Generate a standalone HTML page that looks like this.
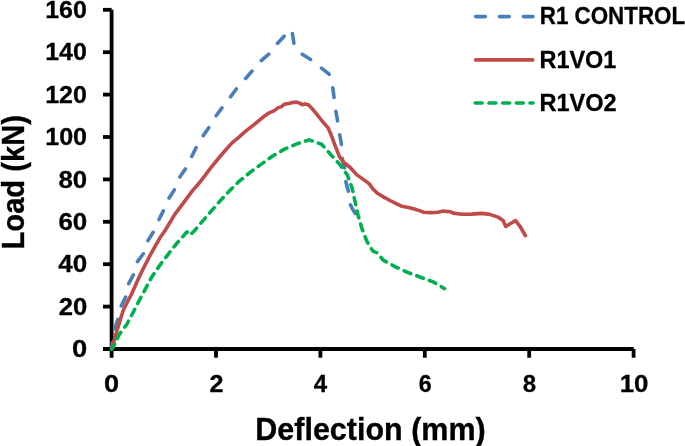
<!DOCTYPE html>
<html><head><meta charset="utf-8"><style>
html,body{margin:0;padding:0;background:#fff;}
svg{display:block;will-change:transform;}
.t{font-family:"Liberation Sans",sans-serif;font-weight:bold;fill:#000;stroke:#000;stroke-width:0.3px;}
.tt{font-family:"Liberation Sans",sans-serif;font-weight:bold;fill:#000;stroke:#000;stroke-width:0.35px;}
</style></head><body>
<svg width="685" height="446" viewBox="0 0 685 446">
<line x1="111.6" y1="9.799999999999955" x2="111.6" y2="357.7" stroke="#000" stroke-width="3.8"/>
<line x1="103.0" y1="349.0" x2="633.7" y2="349.0" stroke="#000" stroke-width="3.8"/>
<line x1="103.0" y1="306.6" x2="111.6" y2="306.6" stroke="#000" stroke-width="3.8"/>
<line x1="103.0" y1="264.2" x2="111.6" y2="264.2" stroke="#000" stroke-width="3.8"/>
<line x1="103.0" y1="221.8" x2="111.6" y2="221.8" stroke="#000" stroke-width="3.8"/>
<line x1="103.0" y1="179.4" x2="111.6" y2="179.4" stroke="#000" stroke-width="3.8"/>
<line x1="103.0" y1="137.0" x2="111.6" y2="137.0" stroke="#000" stroke-width="3.8"/>
<line x1="103.0" y1="94.6" x2="111.6" y2="94.6" stroke="#000" stroke-width="3.8"/>
<line x1="103.0" y1="52.2" x2="111.6" y2="52.2" stroke="#000" stroke-width="3.8"/>
<line x1="103.0" y1="9.8" x2="111.6" y2="9.8" stroke="#000" stroke-width="3.8"/>
<line x1="216.0" y1="349.0" x2="216.0" y2="357.7" stroke="#000" stroke-width="3.8"/>
<line x1="320.4" y1="349.0" x2="320.4" y2="357.7" stroke="#000" stroke-width="3.8"/>
<line x1="424.8" y1="349.0" x2="424.8" y2="357.7" stroke="#000" stroke-width="3.8"/>
<line x1="529.2" y1="349.0" x2="529.2" y2="357.7" stroke="#000" stroke-width="3.8"/>
<line x1="633.6" y1="349.0" x2="633.6" y2="357.7" stroke="#000" stroke-width="3.8"/>
<text transform="translate(72.07,357.10) scale(1.1203,1)" style="font-size:24.4px" class="t">0</text>
<text transform="translate(58.66,314.70) scale(1.0517,1)" style="font-size:24.4px" class="t">20</text>
<text transform="translate(58.36,272.30) scale(1.0632,1)" style="font-size:24.4px" class="t">40</text>
<text transform="translate(58.40,229.90) scale(1.0616,1)" style="font-size:24.4px" class="t">60</text>
<text transform="translate(58.53,187.50) scale(1.0566,1)" style="font-size:24.4px" class="t">80</text>
<text transform="translate(45.17,145.10) scale(1.0295,1)" style="font-size:24.4px" class="t">100</text>
<text transform="translate(45.18,102.70) scale(1.0243,1)" style="font-size:24.4px" class="t">120</text>
<text transform="translate(45.18,60.30) scale(1.0217,1)" style="font-size:24.4px" class="t">140</text>
<text transform="translate(45.18,17.90) scale(1.0243,1)" style="font-size:24.4px" class="t">160</text>
<text transform="translate(103.98,392.10) scale(1.1117,1)" style="font-size:24.4px" class="t">0</text>
<text transform="translate(209.48,392.10) scale(1.0300,1)" style="font-size:24.4px" class="t">2</text>
<text transform="translate(313.69,392.10) scale(0.9870,1)" style="font-size:24.4px" class="t">4</text>
<text transform="translate(418.70,392.10) scale(0.9496,1)" style="font-size:24.4px" class="t">6</text>
<text transform="translate(522.68,392.10) scale(0.9880,1)" style="font-size:24.4px" class="t">8</text>
<text transform="translate(619.72,392.10) scale(1.0609,1)" style="font-size:24.4px" class="t">10</text>
<polyline points="111.6,349.0 113.0,338.0 114.5,329.6 117.8,319.5 121.2,306.0 125.7,297.0 128.0,284.8 133.5,274.7 137.0,262.3 143.6,253.4 147.8,240.8 153.5,231.8 159.0,219.5 163.5,210.5 169.0,198.2 174.8,189.2 179.2,178.0 186.0,168.0 191.6,156.7 196.7,146.4 203.5,135.2 209.0,127.4 215.8,116.1 222.5,107.2 230.4,97.0 237.0,88.1 245.0,79.1 252.8,70.2 260.6,61.2 269.6,53.4 277.6,43.3 284.3,36.0 290.0,29.3 292.4,33.5 294.0,44.0 297.0,49.0 301.3,53.6 311.1,59.8 320.1,67.0 329.1,74.2 331.5,80.0 332.8,88.0 334.1,97.7 335.9,111.1 337.7,121.9 339.5,133.6 341.6,145.2 342.0,157.8 344.8,168.6 345.7,181.1 348.8,192.8 350.2,204.4 352.5,209.0 355.5,213.8" fill="none" stroke="#4A7EBB" stroke-width="3.6" stroke-linejoin="round" stroke-linecap="round" stroke-dasharray="9.8 13.98" stroke-dashoffset="3.28"/>
<polyline points="111.6,349.0 113.2,344.0 115.9,334.0 117.5,329.0 120.5,319.0 123.3,310.0 127.3,302.1 131.1,295.0 133.4,290.0 137.8,280.0 141.1,273.0 149.9,255.6 155.9,244.8 160.7,236.7 165.4,230.0 174.8,214.4 182.9,203.6 192.3,190.9 197.7,184.8 204.4,176.3 212.1,166.1 218.8,158.0 225.6,150.0 232.3,142.6 239.0,137.2 245.7,131.1 252.5,125.8 259.2,120.4 264.5,116.0 269.0,112.9 274.3,110.6 277.9,107.9 281.5,106.6 284.2,104.3 288.7,103.5 292.3,102.6 295.9,102.1 299.5,103.0 302.2,104.8 304.8,103.9 308.4,104.8 311.5,107.9 316.3,113.6 322.5,121.5 327.9,127.6 331.2,135.0 334.6,144.4 337.5,151.5 339.4,156.7 343.5,162.1 350.2,167.5 356.9,174.9 363.6,179.6 369.0,183.6 373.0,189.0 377.1,193.0 383.8,197.1 390.0,200.5 395.7,203.3 401.5,206.2 408.5,207.4 414.4,209.1 420.2,210.9 423.7,212.3 430.7,212.6 437.7,212.3 443.6,211.1 450.0,211.7 453.1,213.1 462.3,214.3 471.5,214.1 482.0,213.4 489.9,214.4 497.8,217.1 503.1,220.6 505.7,226.5 511.0,223.2 515.5,220.6 520.1,226.5 525.4,235.7" fill="none" stroke="#BE4B48" stroke-width="3.6" stroke-linejoin="round" stroke-linecap="round"/>
<polyline points="111.6,349.3 113.5,346.6 119.3,334.4 126.7,324.5 133.1,312.5 139.2,300.5 145.6,288.6 151.9,276.8 159.3,266.0 167.4,255.3 176.9,243.2 184.9,234.3 187.1,231.8 189.2,235.0 191.9,233.2 194.2,231.0 202.9,220.8 211.8,210.4 220.5,200.4 229.6,190.8 238.7,181.7 250.4,172.1 261.0,164.4 272.7,156.0 284.1,149.4 296.8,143.9 309.2,139.9 321.6,144.3 330.9,154.7 339.9,164.6 347.5,175.3 352.0,187.8 355.0,201.3 358.1,215.5 361.9,228.3 366.8,241.2 371.8,249.5 373.4,251.4 377.1,252.8 383.2,260.1 395.0,266.6 407.6,272.4 420.5,277.2 433.2,281.9 444.5,288.6" fill="none" stroke="#00B050" stroke-width="3.6" stroke-linejoin="round" stroke-linecap="round" stroke-dasharray="7.0 6.5" stroke-dashoffset="1.15"/>
<line x1="475.6" y1="16.6" x2="533" y2="16.6" stroke="#4A7EBB" stroke-width="3.6" stroke-linecap="round" stroke-dasharray="9.8 14.1"/>
<line x1="475.6" y1="59.9" x2="532.8" y2="59.9" stroke="#BE4B48" stroke-width="3.6" stroke-linecap="round"/>
<line x1="475.2" y1="103" x2="533" y2="103" stroke="#00B050" stroke-width="3.6" stroke-linecap="round" stroke-dasharray="7.0 6.7"/>
<text transform="translate(539.75,24.10) scale(0.9204,1)" style="font-size:24.3px" class="t">R1 CONTROL</text>
<text transform="translate(539.48,67.60) scale(0.9653,1)" style="font-size:24.3px" class="t">R1VO1</text>
<text transform="translate(539.47,110.60) scale(0.9690,1)" style="font-size:24.3px" class="t">R1VO2</text>
<text transform="translate(255.34,439.60) scale(0.9836,1)" style="font-size:31px" class="tt">Deflection (mm)</text>
<text transform="translate(24.20,247.52) rotate(-90) scale(0.9407,1) translate(-2.074,0)" style="font-size:31px" class="tt">Load (kN)</text>
</svg>
</body></html>
